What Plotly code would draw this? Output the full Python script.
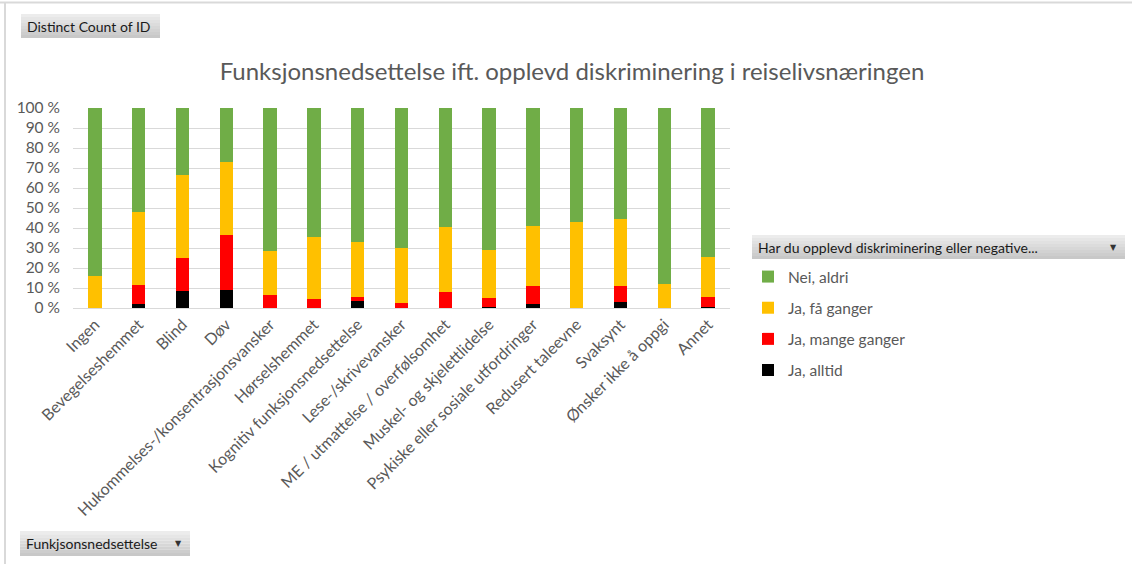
import plotly.graph_objects as go

# Functional impairment categories (x axis)
categories = [
    "Ingen", "Bevegelseshemmet", "Blind", "Døv",
    "Hukommelses-/konsentrasjonsvansker", "Hørselshemmet",
    "Kognitiv funksjonsnedsettelse", "Lese-/skrivevansker",
    "ME / utmattelse / overfølsomhet", "Muskel- og skjelettlidelse",
    "Psykiske eller sosiale utfordringer", "Redusert taleevne",
    "Svaksynt", "Ønsker ikke å oppgi", "Annet",
]

# Share of respondents per answer (percent of each category)
ja_alltid = [0, 2.0, 8.3, 9.1, 0, 0, 3.7, 0, 0, 0.5, 2.0, 0, 3.0, 0, 0.5]
ja_mange = [0, 9.4, 16.7, 27.3, 6.4, 4.5, 1.8, 2.5, 8.2, 4.7, 8.9, 0, 7.9, 0, 5.0]
ja_faa = [16.2, 36.7, 41.7, 36.4, 22.2, 31.2, 27.3, 27.7, 32.3, 23.6, 30.0, 42.9, 33.7, 12.2, 19.8]
nei_aldri = [83.8, 51.9, 33.3, 27.2, 71.4, 64.3, 67.2, 69.8, 59.5, 71.2, 59.1, 57.1, 55.4, 87.8, 74.7]

series_names = ["Ja, alltid", "Ja, mange ganger", "Ja, få ganger", "Nei, aldri"]
series_values = [ja_alltid, ja_mange, ja_faa, nei_aldri]
series_colors = ["#000000", "#ff0000", "#ffc000", "#70ad47"]

y_ticks = [0, 10, 20, 30, 40, 50, 60, 70, 80, 90, 100]
y_tick_labels = [f"{v} %" for v in y_ticks]

title_text = "Funksjonsnedsettelse ift. opplevd diskriminering i reiselivsnæringen"

W, H = 1132, 564
L, R, T, B = 73, 402, 108, 256
PW, PH = W - L - R, H - T - B

FONT = "Lato"
GREY = "#595959"


def px(x):
    return (x - L) / PW


def py(y):
    return (H - B - y) / PH


fig = go.Figure()
for i, (name, vals, col) in enumerate(zip(series_names, series_values, series_colors)):
    fig.add_trace(go.Bar(
        x=categories, y=vals, name=name, marker_color=col,
        marker_line_width=0, legendgroup=name,
        legendrank=len(series_names) - i,
    ))

shapes = []
annotations = []

# Outer frame lines (top and left)
shapes.append(dict(type="line", xref="paper", yref="paper",
                   x0=px(0), x1=px(W), y0=py(2.5), y1=py(2.5),
                   line=dict(color="#d9d9d9", width=2)))
shapes.append(dict(type="line", xref="paper", yref="paper",
                   x0=px(5), x1=px(5), y0=py(2), y1=py(H),
                   line=dict(color="#d9d9d9", width=2)))


def button(x0, y0, x1, y1, text, arrow):
    # vertical grey gradient built from thin strips
    n = 8
    top, bot = (236, 236, 236), (200, 200, 200)
    for i in range(n):
        t = i / (n - 1)
        c = tuple(int(top[k] + (bot[k] - top[k]) * t) for k in range(3))
        ya = y0 + (y1 - y0) * i / n
        yb = y0 + (y1 - y0) * (i + 1) / n
        shapes.append(dict(type="rect", xref="paper", yref="paper",
                           x0=px(x0), x1=px(x1), y0=py(ya), y1=py(yb),
                           fillcolor="rgb(%d,%d,%d)" % c, line_width=0,
                           layer="above"))
    annotations.append(dict(xref="paper", yref="paper", x=px(x0 + 4),
                            y=py((y0 + y1) / 2), text=text, showarrow=False,
                            xanchor="left", yanchor="middle",
                            font=dict(family=FONT, size=14, color="#1a1a1a")))
    if arrow:
        annotations.append(dict(xref="paper", yref="paper", x=px(x1 - 12),
                                y=py((y0 + y1) / 2), text="▼", showarrow=False,
                                xanchor="center", yanchor="middle",
                                font=dict(family="DejaVu Sans", size=8, color="#333333")))


button(21, 14, 160, 38, "Distinct Count of ID", False)
button(20, 531, 190, 556, "Funkjsonsnedsettelse", True)
button(752, 235, 1125, 259, "Har du opplevd diskriminering eller negative...", True)

fig.update_layout(
    width=W, height=H,
    margin=dict(l=L, r=R, t=T, b=B),
    paper_bgcolor="white", plot_bgcolor="white",
    barmode="stack", bargap=0.69,
    title=dict(text=title_text, xref="container", yref="container",
               x=572 / W, xanchor="center", y=1 - 72 / H, yanchor="middle",
               font=dict(family=FONT, size=24, color=GREY)),
    font=dict(family=FONT, color=GREY),
    xaxis=dict(tickangle=-45, tickfont=dict(family=FONT, size=16, color=GREY),
               showgrid=False, showline=True, linecolor="#d9d9d9", linewidth=1,
               ticks="", fixedrange=True),
    yaxis=dict(range=[0, 100], tickvals=y_ticks, ticktext=y_tick_labels,
               tickfont=dict(family=FONT, size=15.5, color=GREY),
               showgrid=True, gridcolor="#d9d9d9", gridwidth=1,
               zeroline=False, showline=False, ticks="", ticklabelstandoff=12,
               fixedrange=True),
    legend=dict(x=px(748), y=py(260), xanchor="left", yanchor="top",
                traceorder="grouped", tracegroupgap=8,
                itemwidth=30, font=dict(family=FONT, size=15.5, color=GREY),
                bgcolor="rgba(0,0,0,0)"),
    shapes=shapes, annotations=annotations,
)

fig.write_html("out.html")
